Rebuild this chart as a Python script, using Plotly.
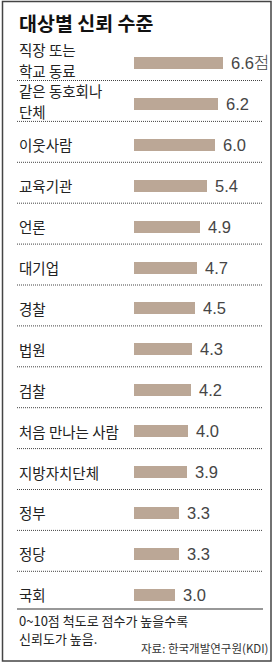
import plotly.graph_objects as go

title = "대상별 신뢰 수준"
categories = ["직장 또는<br>학교 동료", "같은 동호회나<br>단체", "이웃사람", "교육기관", "언론", "대기업",
              "경찰", "법원", "검찰", "처음 만나는 사람", "지방자치단체", "정부", "정당", "국회"]
values = [6.6, 6.2, 6.0, 5.4, 4.9, 4.7, 4.5, 4.3, 4.2, 4.0, 3.9, 3.3, 3.3, 3.0]
value_labels = ["6.6점", "6.2", "6.0", "5.4", "4.9", "4.7", "4.5", "4.3", "4.2", "4.0", "3.9", "3.3", "3.3", "3.0"]
note_lines = ["0~10점 척도로 점수가 높을수록", "신뢰도가 높음."]
source = "자료: 한국개발연구원(KDI)"

W, H = 275, 666
X0_PX = 134.0      # pixel of value 0
PX_PER_UNIT = 13.5
ROW0_PX = 63.0
ROW_PX = 40.9

idx = list(range(len(categories)))

def px(x):
    return x / W

def py(y):
    return 1 - y / H

fig = go.Figure()
fig.add_trace(go.Bar(
    x=values, y=idx, orientation="h", width=12 / ROW_PX,
    marker=dict(color="#bba796", line=dict(width=0)),
    hoverinfo="skip",
))

KR = "Noto Sans CJK KR, Noto Sans, sans-serif"
ann = []
ann.append(dict(text="<b>" + title + "</b>", x=px(17), y=py(22), xref="paper", yref="paper",
                xanchor="left", yanchor="middle", showarrow=False,
                font=dict(family=KR, size=19.5, color="#111")))
for i, (c, v, lab) in enumerate(zip(categories, values, value_labels)):
    parts = c.split("<br>")
    n = len(parts)
    for k, part in enumerate(parts):
        off = (k - (n - 1) / 2) * 20.5 - (3 if n > 1 else 0)
        ann.append(dict(text=part, x=px(17), y=i + off / ROW_PX, xref="paper", yref="y",
                        xanchor="left", yanchor="middle", align="left", showarrow=False,
                        font=dict(family=KR, size=14.5, color="#222")))
    ann.append(dict(text=lab, x=v, y=i, xref="x", yref="y", xanchor="left", yanchor="middle",
                    xshift=6, showarrow=False,
                    font=dict(family="Liberation Sans Narrow, Liberation Sans, Arial, " + KR,
                              size=16.5, color="#454545", weight=300)))
for k, line in enumerate(note_lines):
    ann.append(dict(text=line, x=px(17), y=py(620 + 18 * k), xref="paper", yref="paper",
                    xanchor="left", yanchor="middle", showarrow=False,
                    font=dict(family=KR, size=13, color="#222")))
ann.append(dict(text=source, x=px(270), y=py(648), xref="paper", yref="paper",
                xanchor="right", yanchor="middle", showarrow=False,
                font=dict(family=KR, size=11.5, color="#333")))

shapes = []
for i in idx[:-1]:
    shapes.append(dict(type="line", xref="paper", yref="y", x0=px(17), x1=px(263),
                       y0=i + 17.5 / ROW_PX, y1=i + 17.5 / ROW_PX,
                       line=dict(color="#444", width=1, dash="1px,1px")))
shapes.append(dict(type="line", xref="paper", yref="paper", x0=px(17), x1=px(263),
                   y0=py(609), y1=py(609), line=dict(color="#333", width=1.2)))
shapes.append(dict(type="rect", xref="paper", yref="paper", x0=px(2.5), x1=px(271),
                   y0=py(661), y1=py(1.5), line=dict(color="#444", width=1.5)))

fig.update_layout(
    width=W, height=H, margin=dict(l=0, r=0, t=0, b=0),
    paper_bgcolor="white", plot_bgcolor="white", showlegend=False,
    annotations=ann, shapes=shapes, bargap=0,
    xaxis=dict(range=[-X0_PX / PX_PER_UNIT, (W - X0_PX) / PX_PER_UNIT], visible=False, fixedrange=True),
    yaxis=dict(range=[(H - ROW0_PX) / ROW_PX, -ROW0_PX / ROW_PX], visible=False, fixedrange=True),
)
fig.write_html("out.html")
